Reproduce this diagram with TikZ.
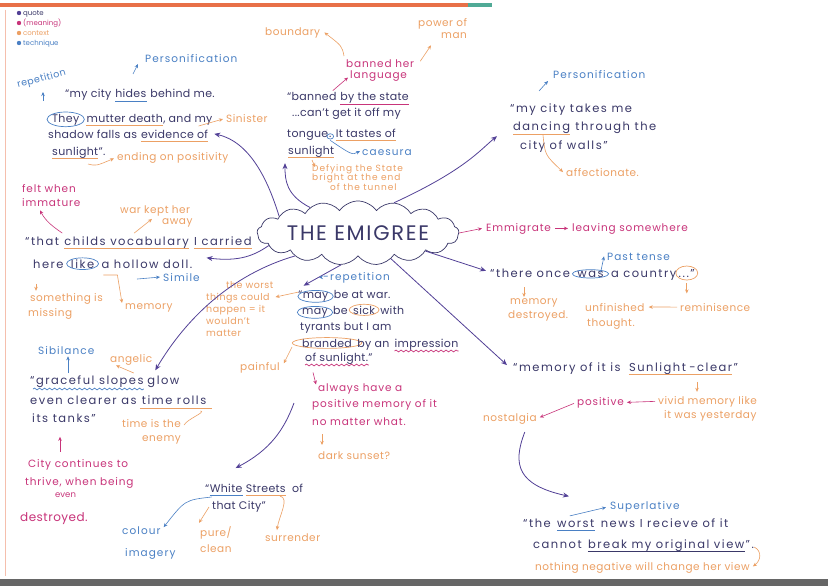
\documentclass[tikz,border=0pt]{standalone}
\usepackage{fontspec}
\setmainfont{Poppins}
\usetikzlibrary{arrows.meta,shapes.symbols,shapes.geometric,fit,decorations.pathmorphing,calc}
\definecolor{quotec}{RGB}{58,56,104}
\definecolor{arrc}{RGB}{82,64,150}
\definecolor{techc}{RGB}{74,128,196}
\definecolor{ctxc}{RGB}{236,160,100}
\definecolor{meanc}{RGB}{200,52,122}
\definecolor{edgec}{RGB}{232,112,72}
\definecolor{tealc}{RGB}{80,170,150}
\newcommand\nxtw[5][3.5]{\node[#2] (#3) at ($(#4.base east)+(#1,0)$) {#5};}
\newcommand\ulin[3][3]{\draw[#2] ($(#3.base west)+(0,#1)$) -- ($(#3.base east)+(0,#1)$);}
\begin{document}
\begin{tikzpicture}[x=1pt,y=-1pt,
  q/.style={text=quotec,font=\fontsize{11}{13}\selectfont\addfontfeature{LetterSpace=3},inner sep=0pt,anchor=base west},
  qw/.style={text=quotec,font=\fontsize{11.5}{13}\selectfont\addfontfeature{LetterSpace=13},inner sep=0pt,anchor=base west},
  cx/.style={text=ctxc,font=\fontsize{10.5}{12}\selectfont\addfontfeature{LetterSpace=5},inner sep=0pt,anchor=base west},
  tq/.style={text=techc,font=\fontsize{10.5}{12}\selectfont\addfontfeature{LetterSpace=10},inner sep=0pt,anchor=base west},
  mn/.style={text=meanc,font=\fontsize{10.5}{12}\selectfont\addfontfeature{LetterSpace=8},inner sep=0pt,anchor=base west},
  lg/.style={font=\fontsize{7}{8}\selectfont,inner sep=0pt,anchor=base west},
  arr/.style={draw=arrc,line width=0.8pt,-{Stealth[length=6pt,width=5pt]}},
  carr/.style={draw=ctxc,line width=0.6pt,-{Stealth[length=4pt,width=3.5pt]}},
  tarr/.style={draw=techc,line width=0.6pt,-{Stealth[length=4pt,width=3.5pt]}},
  marr/.style={draw=meanc,line width=0.6pt,-{Stealth[length=4pt,width=3.5pt]}},
  ulc/.style={draw=ctxc,line width=0.7pt},
  ult/.style={draw=techc,line width=0.7pt},
  ulm/.style={draw=meanc,line width=0.7pt},
  ulq/.style={draw=quotec,line width=0.7pt},
  wav/.style={line width=0.7pt,decorate,decoration={snake,amplitude=0.9pt,segment length=5pt}},
  ring/.style={draw=#1,ellipse,inner sep=-0.5pt,line width=0.7pt},
]
\useasboundingbox (0,0) rectangle (828,586);
\fill[white] (0,0) rectangle (828,586);
% paper edges
\fill[edgec] (0,3) rectangle (468,7);
\fill[tealc] (468,3) rectangle (492,7);
\draw[edgec!45,line width=0.8pt] (5,10) -- (5,576);
\fill[black!60] (0,579) rectangle (828,586);

% legend
\fill[arrc] (19,13) circle (2.2);
\node[lg,text=quotec] (lg1) at (23,15.5) {quote};
\fill[meanc] (19,23) circle (2.2);
\node[lg,text=meanc] (lg2) at (23,25.5) {(meaning)};
\fill[ctxc] (19,33) circle (2.2);
\node[lg,text=ctxc] (lg3) at (23,35.5) {context};
\fill[techc] (19,43) circle (2.2);
\node[lg,text=techc] (lg4) at (23,45.5) {technique};

% central cloud
\node[cloud,draw=quotec,line width=0.7pt,cloud puffs=17,cloud puff arc=110,aspect=4.4,
  minimum width=166pt,minimum height=40pt,inner sep=0pt,text=quotec,
  font=\fontsize{21}{22}\selectfont\addfontfeature{LetterSpace=8}] (emi) at (358,233) {THE EMIGREE};

% ---------------- top-left quote
\node[tq] (pers1) at (145,63) {Personification};
\node[tq,rotate=15,font=\fontsize{9.5}{11}\selectfont\addfontfeature{LetterSpace=5}] (rep1) at (18,88) {repetition};
\node[q] (a1) at (65,98) {“my city};
\nxtw{q}{a2}{a1}{hides}
\nxtw{q}{a3}{a2}{behind me.}
\ulin{ult}{a2}
\node[q] (a4) at (52,122) {They};
\node[ring=techc,fit=(a4)] (a4c) {};
\nxtw[7]{q}{a5}{a4}{mutter death}
\nxtw[0]{q}{a6}{a5}{, and my}
\ulin{ulc}{a5}
\node[cx] (sin) at (226,122) {Sinister};
\node[q] (a7) at (48,138) {shadow falls as};
\nxtw{q}{a8}{a7}{evidence of}
\ulin{ulc}{a8}
\node[q] (a9) at (52,155) {sunlight};
\nxtw[0]{q}{a10}{a9}{”.}
\ulin{ulc}{a9}
\node[cx] (endp) at (117,160) {ending on positivity};
\draw[tarr] ($(pers1.base west)+(-12,11)$) -- ($(pers1.base west)+(-7,1)$);
\draw[tarr] ($(a1.base west)+(-22,3)$) -- ($(a1.base west)+(-22,-6)$);
\draw[carr] ($(a6.base east)+(-14,4)$) -- ($(sin.west)+(-3,1)$);
\draw[carr] ($(a9.base west)+(36,9)$) .. controls +(8,2) .. ($(endp.west)+(-3,1)$);
\draw[arr] (emi.168) .. controls (268,180) and (250,142) .. ($(a8.east)+(6,0)$);

% ---------------- child's vocabulary
\node[mn] (felt) at (22,192) {felt when};
\node[mn] (imm) at (22,206) {immature};
\node[cx] (war1) at (120,213) {war kept her};
\node[cx] (war2) at (162,224) {away};
\node[qw] (b1) at (25,245) {“that};
\nxtw[5]{qw}{b2}{b1}{childs vocabulary}
\nxtw[5]{qw}{b3}{b2}{I carried}
\ulin{ulc}{b2}
\ulin{ulc}{b3}
\node[qw] (b4) at (33,268) {here};
\nxtw[7]{qw}{b5}{b4}{like}
\node[ring=techc,fit=(b5)] (b5c) {};
\nxtw[7]{qw}{b6}{b5}{a hollow doll.}
\node[tq] (sim) at (163,281) {Simile};
\node[cx] (some1) at (30,301) {something is};
\node[cx] (some2) at (28,316) {missing};
\node[cx] (mem1) at (125,309) {memory};
\draw[marr] ($(b2.north west)+(-2,-3)$) .. controls (55,228) and (46,222) .. ($(imm.south west)+(18,4)$);
\draw[carr] ($(b2.north west)+(70,-3)$) -- ($(war1.south west)+(32,3)$);
\draw[tarr] ($(sim.west)+(-26,2)$) -- ($(sim.west)+(-3,0)$);
\draw[carr] ($(some1.north west)+(6,-9)$) -- ($(some1.north west)+(6,-2)$);
\draw[ctxc,line width=0.6pt,-{Stealth[length=4pt,width=3.5pt]}] ($(b6.base west)+(2,7)$) -- ($(b6.base west)+(16,7)$) -- ($(mem1.north west)+(-3,0)$);
\draw[arr] (emi.188) .. controls (255,255) and (240,262) .. ($(b6.east)+(14,-6)$);

% worst things
\node[cx,anchor=north west,align=left,font=\fontsize{9.5}{12}\selectfont\addfontfeature{LetterSpace=5}] (worst) at (206,281)
  {\hspace{20pt}the worst\\things could\\happen = it\\wouldn't\\matter};

% ---------------- top centre quote
\node[cx] (bound) at (265,36) {boundary};
\node[cx] (pow1) at (418,27) {power of};
\node[cx] (pow2) at (441,39) {man};
\node[mn] (ban1) at (346,67) {banned her};
\node[mn] (ban2) at (350,79) {language};
\node[q] (c1) at (287,101) {“banned};
\nxtw{q}{c2}{c1}{by the state}
\ulin{ulm}{c2}
\node[q] (c3) at (292,117) {...can't get it off my};
\node[q] (c4) at (287,137) {tongue};
\nxtw[0.5]{q}{c5}{c4}{.}
\node[ring=techc,fit=(c5),inner sep=1pt] (c5c) {};
\nxtw[4]{q}{c6}{c5}{It tastes of}
\ulin{ulc}{c6}
\node[q] (c7) at (288,154) {sunlight};
\ulin{ulc}{c7}
\node[tq] (caes) at (362,155) {caesura};
\node[cx,anchor=north west,align=left,font=\fontsize{9}{9.5}\selectfont\addfontfeature{LetterSpace=11}] (defy) at (312,164)
  {Defying the State\\bright at the end\\\hspace{18pt}of the tunnel};
\draw[carr] ($(ban1.north west)+(-2,-3)$) .. controls +(-2,-10) .. ($(bound.east)+(4,-1)$);
\draw[carr] ($(ban1.east)+(6,-2)$) -- ($(pow2.south west)+(-10,6)$);
\draw[marr] ($(c1.north east)+(-4,-2)$) -- ($(ban2.west)+(-2,1)$);
\draw[tarr] ($(c5c.south)+(0,1)$) .. controls (352,155) .. ($(caes.west)+(-2,-1)$);
\draw[carr] ($(defy.north west)+(0,-4)$) -- ($(defy.north west)+(3,3)$);
\draw[arr] (emi.152) .. controls (286,195) and (285,180) .. ($(c7.south west)+(-3,6)$);

% ---------------- top right quote
\node[tq] (pers2) at (553,79) {Personification};
\node[qw] (d1) at (510,113) {“my city takes me};
\node[qw] (d2) at (513,131) {dancing};
\nxtw[5]{qw}{d3}{d2}{through the}
\ulin{ulc}{d2}
\node[qw] (d4) at (520,149) {city of walls”};
\node[cx] (aff) at (566,176) {affectionate.};
\draw[tarr] ($(pers2.base west)+(-14,12)$) -- ($(pers2.base west)+(-5,2)$);
\draw[carr] ($(d2.base west)+(30,4)$) .. controls +(2,20) .. ($(aff.west)+(-3,0)$);
\draw[arr] (emi.40) .. controls (465,170) and (480,150) .. ($(d2.west)+(-16,8)$);

% emmigrate
\node[mn] (emm1) at (486,231) {Emmigrate};
\node[mn] (emm2) at (572,231) {leaving somewhere};
\draw[marr] (emm1.east) ++(4,0) -- ($(emm2.west)+(-4,0)$);
\draw[marr] (emi.east) -- ($(emm1.west)+(-4,0)$);

% there once was a country
\node[tq] (past) at (607,260) {Past tense};
\node[qw] (e1) at (490,277) {“there once};
\nxtw[7]{qw}{e2}{e1}{was}
\node[ring=techc,fit=(e2)] (e2c) {};
\nxtw[7]{qw}{e3}{e2}{a country}
\nxtw[2]{qw}{e4}{e3}{...”}
\node[ring=ctxc,fit=(e4),minimum height=14pt] (e4c) {};
\node[cx] (md1) at (510,304) {memory};
\node[cx] (md2) at (508,318) {destroyed.};
\node[cx] (unf) at (585,311) {unfinished};
\node[cx] (rem) at (680,311) {reminisence};
\node[cx] (tho) at (587,326) {thought.};
\draw[tarr] ($(e2c.north east)+(-3,2)$) -- ($(past.west)+(-3,0)$);
\draw[carr] ($(e1.base west)+(34,10)$) -- ($(md1.north west)+(14,-1)$);
\draw[carr] (rem.west) ++(-3,0) -- ($(unf.east)+(4,0)$);
\draw[carr] ($(e4c.south)+(0,3)$) -- ($(e4c.south)+(0,13)$);
\draw[arr] (emi.-15) -- ($(e1.west)+(-4,-2)$);

% memory of it is sunlight-clear
\node[qw] (f1) at (513,371) {“memory of it is};
\nxtw[8]{qw}{f2}{f1}{Sunlight};
\nxtw[3]{qw}{f3}{f2}{-clear”}
\draw[ulc] ($(f2.base west)+(0,3)$) -- ($(f3.base east)+(-6,3)$);
\node[cx] (viv1) at (658,404) {vivid memory like};
\node[cx] (viv2) at (664,418) {it was yesterday};
\node[mn] (posi) at (577,405) {positive};
\node[cx] (nost) at (483,421) {nostalgia};
\draw[carr] ($(viv1.north west)+(39,-14)$) -- ($(viv1.north west)+(39,-4)$);
\draw[marr] ($(viv1.west)+(-3,0)$) -- ($(posi.east)+(3,0)$);
\draw[marr] ($(posi.west)+(-3,1)$) -- ($(nost.east)+(3,-1)$);
\draw[arr] (emi.-38) -- ($(f1.west)+(-6,-3)$);

% worst news
\node[tq] (sup) at (610,509) {Superlative};
\node[qw] (g1) at (523,527) {“the};
\nxtw[6]{qw}{g2}{g1}{worst}
\nxtw[6]{qw}{g3}{g2}{news I recieve of it}
\ulin{ult}{g2}
\node[qw] (g4) at (533,548) {cannot};
\nxtw[6]{qw}{g5}{g4}{break my original view}
\nxtw[1]{qw}{g6}{g5}{”.}
\ulin{ulq}{g5}
\node[cx] (noth) at (535,570) {nothing negative will change her view};
\draw[tarr] ($(g2.north)+(-6,-3)$) -- ($(sup.west)+(-4,1)$);
\draw[carr] ($(g6.east)+(0,3)$) .. controls +(8,4) and +(8,-6) .. ($(noth.east)+(3,-1)$);
\draw[arr] ($(nost.south east)+(-12,8)$) .. controls (512,465) and (518,485) .. ($(g1.north east)+(18,-22)$);

% ---------------- centre quote (may be at war)
\node[tq] (rep2) at (323,280) {-repetition};
\node[q] (h0) at (298,298) {“};
\nxtw[0]{q}{h1}{h0}{may}
\node[ring=techc,fit=(h1)] (h1c) {};
\nxtw[5]{q}{h2}{h1}{be at war.}
\node[q] (h3) at (302,314) {may};
\node[ring=techc,fit=(h3)] (h3c) {};
\nxtw[5]{q}{h4}{h3}{be}
\nxtw[5]{q}{h5}{h4}{sick}
\node[ring=ctxc,fit=(h5)] (h5c) {};
\nxtw[5]{q}{h6}{h5}{with}
\node[q] (h7) at (300,330) {tyrants but I am};
\node[q] (h8) at (302,347) {branded};
\node[ring=ctxc,fit=(h8)] (h8c) {};
\nxtw[5]{q}{h9}{h8}{by an}
\nxtw[5]{q}{h10}{h9}{impression}
\draw[meanc,wav] ($(h10.base west)+(0,4)$) -- ($(h10.base east)+(0,4)$);
\node[q] (h11) at (305,361) {of sunlight.”};
\draw[meanc,wav] ($(h11.base west)+(0,4)$) -- ($(h11.base east)+(-4,4)$);
\node[cx] (painful) at (240,370) {painful};
\node[mn] (alw1) at (318,391) {always have a};
\node[mn] (alw2) at (312,407) {positive memory of it};
\node[mn] (alw3) at (312,425) {no matter what.};
\node[cx] (dark) at (318,459) {dark sunset?};
\draw[arr] (emi.-118) -- ($(h1.north west)+(1,-6)$);
\draw[tarr] ($(rep2.west)+(-1,0)$) -- ($(rep2.west)+(-4,0)$);
\draw[carr] ($(h0.west)+(0,-2)$) -- ($(worst.north east)+(2,16)$);
\draw[carr] ($(h8c.west)+(0,4)$) -- ($(painful.east)+(4,-4)$);
\draw[marr] ($(alw1.west)+(-5,-16)$) -- ($(alw1.west)+(-2,-4)$);
\draw[carr] ($(alw3.base west)+(10,9)$) -- ($(alw3.base west)+(10,20)$);

% ---------------- graceful slopes
\node[tq] (sib) at (38,354) {Sibilance};
\node[cx] (ang) at (110,362) {angelic};
\node[qw] (i1) at (30,384) {“graceful slopes};
\nxtw{qw}{i2}{i1}{glow}
\draw[techc,wav] ($(i1.base west)+(3,5)$) -- ($(i1.base east)+(0,5)$);
\node[qw] (i3) at (30,404) {even clearer as};
\nxtw[5]{qw}{i4}{i3}{time rolls}
\draw[ulc] ($(i4.base west)+(-2,4)$) -- ($(i4.base east)+(6,4)$);
\node[qw] (i5) at (32,422) {its tanks”};
\node[cx] (tim1) at (122,427) {time is the};
\node[cx] (tim2) at (142,441) {enemy};
\node[mn] (city1) at (28,467) {City continues to};
\node[mn] (city2) at (25,485) {thrive, when being};
\node[mn,font=\fontsize{8.5}{9}\selectfont] (city3) at (55,497) {even};
\node[mn,font=\fontsize{12}{13}\selectfont\addfontfeature{LetterSpace=4}] (city4) at (20,521) {destroyed.};
\draw[tarr] ($(i1.north west)+(38,-2)$) -- ($(sib.south west)+(30,2)$);
\draw[carr] ($(i1.north east)+(-10,-2)$) -- ($(ang.west)+(6,6)$);
\draw[ctxc,line width=0.6pt] ($(i4.base east)+(-6,7)$) .. controls +(6,1) and +(3,-6) .. ($(tim1.east)+(3,2)$);
\draw[marr] ($(city1.north west)+(32,-7)$) -- ($(city1.north west)+(32,-22)$);
\draw[arr] (emi.200) .. controls (230,275) and (185,320) .. ($(i2.north west)+(8,-5)$);

% ---------------- white streets
\coordinate (ws) at (294,403);
\node[q] (j0) at (205,492) {“};
\nxtw[0]{q}{j1}{j0}{White}
\nxtw[3]{q}{j2}{j1}{Streets}
\nxtw[6]{q}{j3}{j2}{of}
\node[q] (j4) at (212,509) {that City”};
\ulin{ult}{j1}
\ulin{ulc}{j2}
\node[tq] (col1) at (122,534) {colour};
\node[tq] (col2) at (125,556) {imagery};
\node[cx] (pure1) at (200,536) {pure/};
\node[cx] (pure2) at (200,552) {clean};
\node[cx] (surr) at (265,541) {surrender};
\draw[arr] (ws) .. controls (284,430) and (270,450) .. ($(j2.north west)+(-10,-16)$);
\draw[tarr] ($(j1.base west)+(2,5)$) .. controls (185,500) .. ($(col1.east)+(3,-3)$);
\draw[carr] ($(j4.base west)+(-3,-2)$) -- ($(pure1.north west)+(-1,-3)$);
\draw[carr] ($(j2.base east)+(-6,4)$) .. controls +(10,2) and +(2,-14) .. ($(surr.north west)+(12,-3)$);
\end{tikzpicture}
\end{document}
